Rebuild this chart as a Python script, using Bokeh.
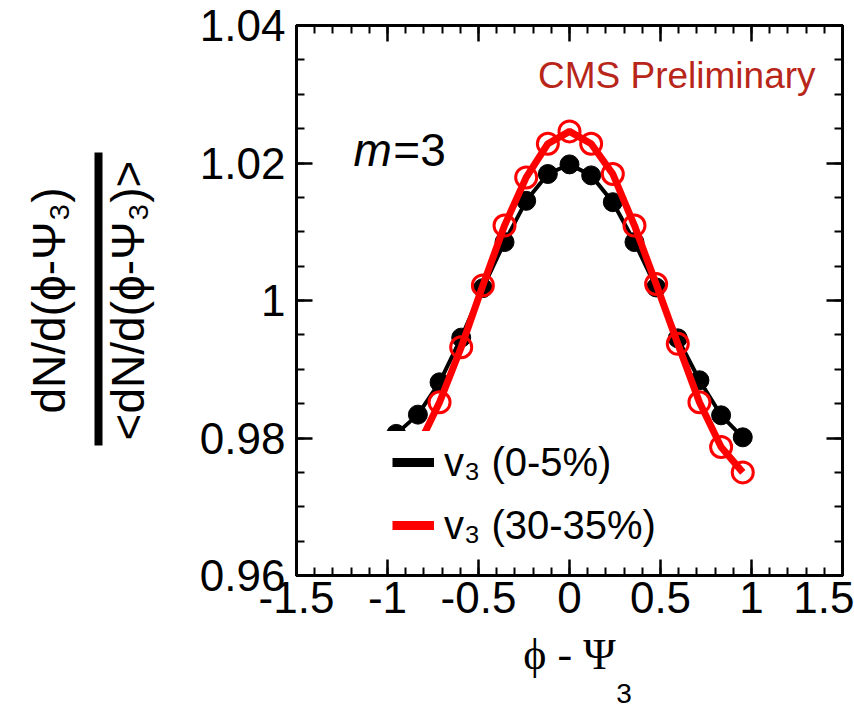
from bokeh.plotting import figure
from bokeh.models import (LinearAxis, SingleIntervalTicker, FixedTicker, CustomJSTickFormatter,
                          Label, Legend, LegendItem)
from bokeh.embed import file_html
from bokeh.resources import INLINE

# ---- data ----
phi = [-0.952, -0.833, -0.714, -0.595, -0.476, -0.357, -0.238, -0.119, 0.0,
       0.119, 0.238, 0.357, 0.476, 0.595, 0.714, 0.833, 0.952]
v3_central = [0.9806, 0.9834, 0.9881, 0.9946, 1.0018, 1.0085, 1.0145, 1.0184, 1.0198,
              1.0182, 1.0143, 1.0085, 1.0019, 0.9945, 0.9884, 0.9833, 0.9801]
v3_peripheral = [0.9752, 0.9787, 0.9852, 0.9932, 1.0022, 1.0109, 1.0179, 1.0228, 1.0246,
                 1.0228, 1.0184, 1.0109, 1.0024, 0.9937, 0.9852, 0.9787, 0.9750]
label_central = "v\u2083 (0-5%)"
label_peripheral = "v\u2083 (30-35%)"
y_numerator = "dN/d(\u03d5-\u03a8\u2083)"
y_denominator = "<dN/d(\u03d5-\u03a8\u2083)>"
x_title = "\u03d5 - \u03a8"
x_title_sub = "3"

FONT = "Liberation Sans"
CMS_RED = "#B8261A"

p = figure(frame_width=546, frame_height=550, x_range=(-1.5, 1.5), y_range=(0.96, 1.04),
           output_backend="svg", toolbar_location=None,
           min_border_left=296, min_border_right=12, min_border_top=25, min_border_bottom=134)
p.grid.visible = False
p.outline_line_color = "black"
p.outline_line_width = 3
p.background_fill_color = "white"
p.border_fill_color = "white"

xfmt = CustomJSTickFormatter(code="return (Math.round(tick*10)/10).toString()")
yfmt = CustomJSTickFormatter(code="return (Math.round(tick*100)/100).toString()")

def style(ax, xaxis, show_labels):
    ax.ticker = (SingleIntervalTicker(interval=0.5, num_minor_ticks=5) if xaxis
                 else SingleIntervalTicker(interval=0.02, num_minor_ticks=4))
    ax.axis_line_color = "black"
    ax.axis_line_width = 3
    ax.major_tick_in = 16
    ax.major_tick_out = 0
    ax.minor_tick_in = 8
    ax.minor_tick_out = 0
    ax.major_tick_line_width = 2.5
    ax.minor_tick_line_width = 2
    ax.major_tick_line_color = "black"
    ax.minor_tick_line_color = "black"
    if show_labels:
        ax.formatter = xfmt if xaxis else yfmt
        ax.major_label_text_font = FONT
        ax.major_label_text_font_size = "44px"
        ax.major_label_text_color = "black"
    else:
        ax.major_label_text_font_size = "0px"
        ax.major_label_standoff = 0

def title_axis(text, font, size, standoff, bounds=None, line_width=0):
    ax = LinearAxis(ticker=FixedTicker(ticks=[]))
    ax.major_tick_out = 0
    ax.major_tick_in = 0
    ax.minor_tick_out = 0
    ax.minor_tick_in = 0
    ax.major_label_text_font_size = "0px"
    ax.major_label_standoff = 0
    if line_width:
        ax.axis_line_width = line_width
        ax.axis_line_color = "black"
        ax.bounds = bounds
    else:
        ax.axis_line_alpha = 0
    if text is not None:
        ax.axis_label = text
        ax.axis_label_text_font = font
        ax.axis_label_text_font_size = size
        ax.axis_label_text_font_style = "normal"
        ax.axis_label_text_color = "black"
        ax.axis_label_standoff = standoff
    return ax

style(p.xaxis[0], True, True)
p.xaxis[0].major_label_standoff = 6
p.xaxis[0].axis_label = x_title
p.xaxis[0].axis_label_text_font = "Liberation Serif"
p.xaxis[0].axis_label_text_font_size = "44px"
p.xaxis[0].axis_label_text_font_style = "normal"
p.xaxis[0].axis_label_text_color = "black"
p.xaxis[0].axis_label_standoff = 14

style(p.yaxis[0], False, True)
p.yaxis[0].major_label_standoff = 11
p.yaxis[0].axis_label = y_denominator
p.yaxis[0].axis_label_text_font = FONT
p.yaxis[0].axis_label_text_font_size = "46px"
p.yaxis[0].axis_label_text_font_style = "normal"
p.yaxis[0].axis_label_text_color = "black"
p.yaxis[0].axis_label_standoff = 43

top = LinearAxis()
style(top, True, False)
p.add_layout(top, "above")
right = LinearAxis()
style(right, False, False)
p.add_layout(right, "right")

# fraction bar and numerator of the y title, stacked outward on the left
p.add_layout(title_axis(None, None, None, 0, bounds=(0.9789, 1.0215), line_width=8), "left")
p.add_layout(title_axis(y_numerator, FONT, "46px", 24), "left")
# subscript of the x title
p.add_layout(title_axis("\u00a0" * 14 + x_title_sub, FONT, "28px", -4), "below")

# ---- data marks ----
p.line(phi, v3_central, line_color="black", line_width=4)
p.scatter(phi, v3_central, size=19, marker="circle", fill_color="black", line_color="black")
p.line(phi, v3_peripheral, line_color="red", line_width=7)
p.scatter(phi, v3_peripheral, size=21, marker="circle", fill_color=None,
          line_color="red", line_width=3)

# legend swatches (thicker than the data lines, as in the reference); hidden renderers
leg_black = p.line(phi, v3_central, line_color="black", line_width=9, visible=False)
leg_red = p.line(phi, v3_peripheral, line_color="red", line_width=9, visible=False)
legend = Legend(items=[LegendItem(label=label_central, renderers=[leg_black]),
                       LegendItem(label=label_peripheral, renderers=[leg_red])],
                location=(88, 19), label_text_font=FONT, label_text_font_size="40px",
                label_text_color="black", glyph_width=42, glyph_height=46, label_height=46,
                label_standoff=10, spacing=17, padding=8, margin=0,
                border_line_alpha=0, background_fill_color="white", background_fill_alpha=1)
p.add_layout(legend, "center")

# ---- texts inside the frame ----
p.add_layout(Label(x=1.352, y=1.0327, text="CMS Preliminary", text_align="right",
                   text_baseline="alphabetic", text_font=FONT, text_font_size="37px",
                   text_color=CMS_RED))
p.add_layout(Label(x=-1.187, y=1.0219, text="m", text_align="left", text_baseline="alphabetic",
                   text_font=FONT, text_font_size="46px", text_font_style="italic",
                   text_color="black"))
p.add_layout(Label(x=-0.968, y=1.0219, text="=3", text_align="left", text_baseline="alphabetic",
                   text_font=FONT, text_font_size="46px", text_color="black"))

open("out.html", "w").write(file_html(p, INLINE))
